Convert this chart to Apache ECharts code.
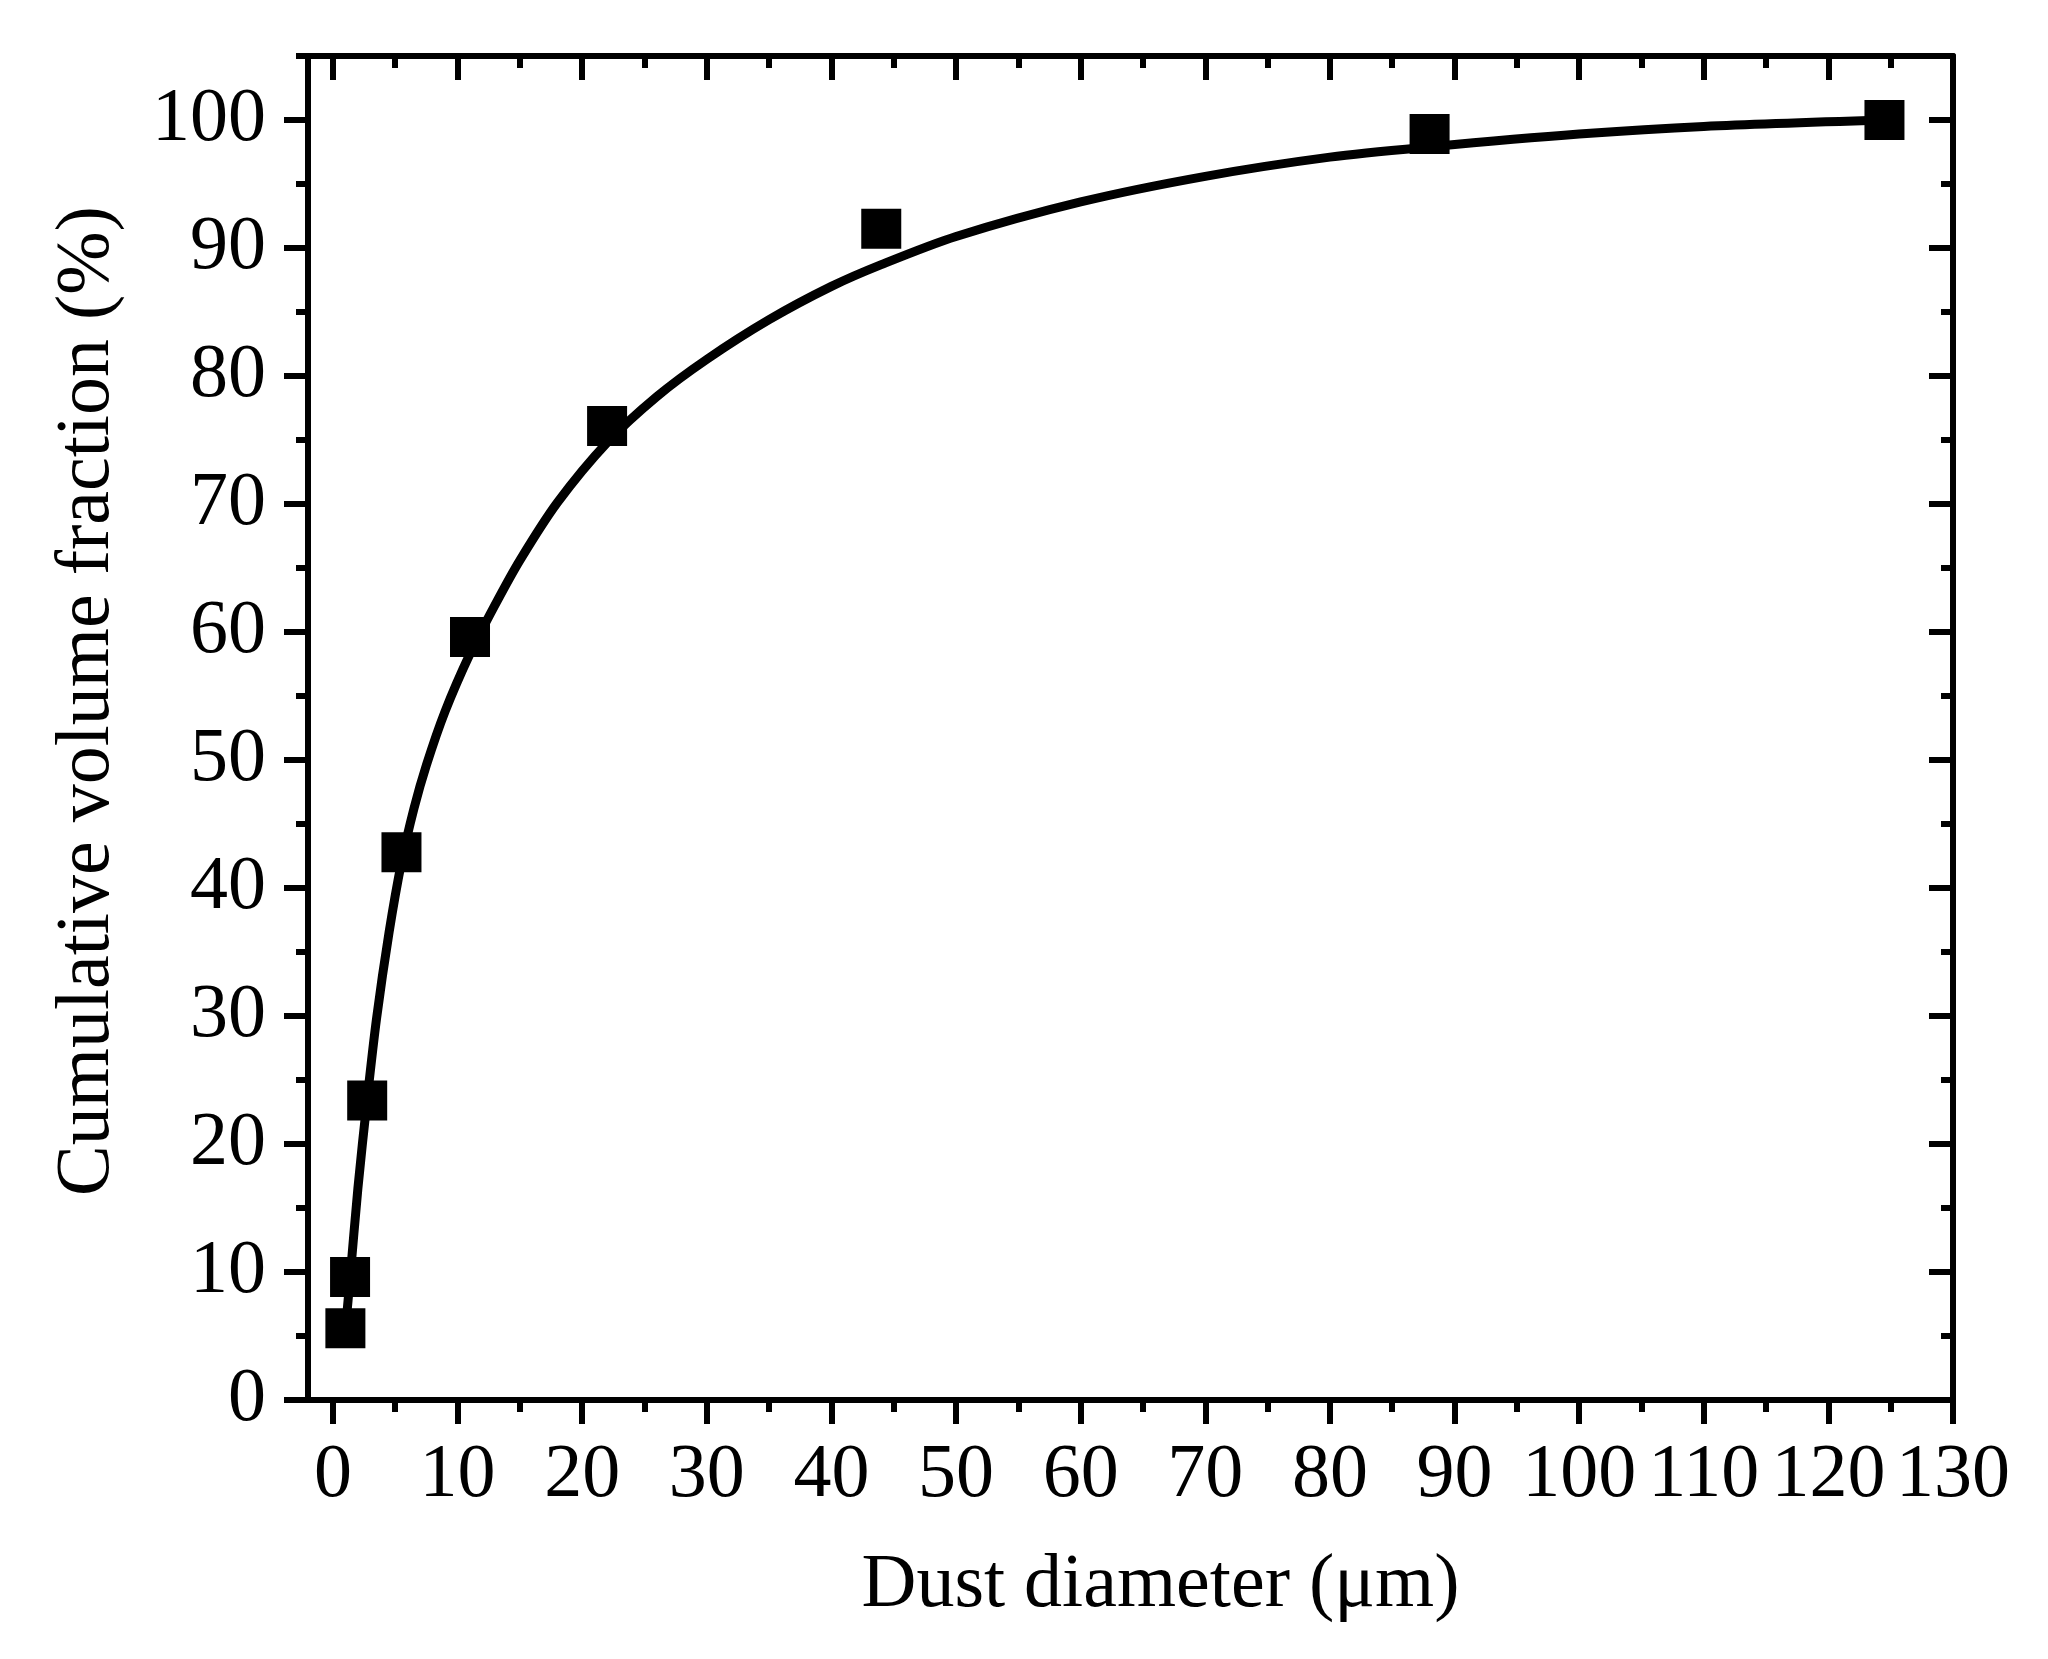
<!DOCTYPE html>
<html><head><meta charset="utf-8">
<script src="https://cdn.jsdelivr.net/npm/echarts@6/dist/echarts.min.js"></script>
<style>html,body{margin:0;padding:0;background:#fff}#c{width:2048px;height:1659px}</style>
</head><body><div id="c"></div>
<script>
// measured data points
const diameters  = [1, 1.375, 2.75, 5.5, 11, 22, 44, 88, 124.5];
const cumulative = [5.6, 9.6, 23.4, 42.8, 59.6, 76.1, 91.5, 98.9, 100.0];
// fitted curve
const fitX = [1, 1.375, 2, 2.75, 3.5, 4.5, 5.5, 6.5, 7.5, 9, 11, 13, 15, 18, 22, 26, 30, 35, 40, 44, 50, 60, 70, 80, 88, 100, 110, 124.5];
const fitY = [5.5, 9.5, 16.5, 23.5, 29.8, 36.5, 42.0, 46.2, 49.6, 53.8, 58.3, 62.1, 65.6, 70.1, 74.8, 78.4, 81.3, 84.4, 87.0, 88.7, 90.9, 93.6, 95.6, 97.1, 97.9, 98.9, 99.5, 100.0];
// ticks
const xMajorTicks = [0,10,20,30,40,50,60,70,80,90,100,110,120,130];
const xMinorTicks = [5,15,25,35,45,55,65,75,85,95,105,115,125];
const yMajorTicks = [0,10,20,30,40,50,60,70,80,90,100];
const yMinorTicks = [5,15,25,35,45,55,65,75,85,95,105];
const xTitle = 'Dust diameter (μm)';
const yTitle = 'Cumulative volume fraction (%)';

const FONT = 'Liberation Serif';
const FS = 76;
const X_MIN = -2, X_MAX = 130, Y_MIN = 0, Y_MAX = 105;

function mkAxis(dim, position, ticks, len, inside, showLine, label, name) {
  const a = {
    type: 'value', position: position,
    min: dim === 'x' ? X_MIN : Y_MIN,
    max: dim === 'x' ? X_MAX : Y_MAX,
    splitLine: {show: false},
    axisLine: {show: showLine, onZero: false, lineStyle: {color: '#000', width: 6}},
    axisTick: {show: true, inside: inside, length: len, customValues: ticks, lineStyle: {color: '#000', width: 6}},
    axisLabel: label ? {show: true, customValues: ticks, margin: dim === 'x' ? 38 : 42,
      fontFamily: FONT, fontSize: FS, color: '#000'} : {show: false},
    z: 3
  };
  if (name) Object.assign(a, name);
  return a;
}

const chart = echarts.init(document.getElementById('c'), null, {renderer: 'canvas'});
chart.setOption({
  backgroundColor: '#fff',
  animation: false,
  grid: {left: 308, right: 95, top: 56, bottom: 259, containLabel: false},
  xAxis: [
    mkAxis('x', 'bottom', xMajorTicks, 24, false, true, true, {
      name: xTitle, nameLocation: 'middle', nameGap: 148,
      nameTextStyle: {fontFamily: FONT, fontSize: FS, color: '#000', padding: [0, 0, 0, 60]}
    }),
    mkAxis('x', 'bottom', xMinorTicks, 12, false, false, false),
    mkAxis('x', 'top', xMajorTicks, 24, true, true, false),
    mkAxis('x', 'top', xMinorTicks, 12, true, false, false)
  ],
  yAxis: [
    mkAxis('y', 'left', yMajorTicks, 24, false, true, true, {
      name: yTitle, nameLocation: 'middle', nameGap: 182, nameRotate: 90,
      nameTextStyle: {fontFamily: FONT, fontSize: FS, color: '#000', padding: [0, 0, 0, 54]}
    }),
    mkAxis('y', 'left', yMinorTicks, 12, false, false, false),
    mkAxis('y', 'right', yMajorTicks, 24, true, true, false),
    mkAxis('y', 'right', yMinorTicks, 12, true, false, false)
  ],
  series: [
    {
      type: 'line', xAxisIndex: 0, yAxisIndex: 0,
      data: fitX.map((x, i) => [x, fitY[i]]),
      smooth: 0.3, showSymbol: false, symbol: 'none',
      lineStyle: {color: '#000', width: 9}, z: 4
    },
    {
      type: 'scatter', xAxisIndex: 0, yAxisIndex: 0,
      data: diameters.map((x, i) => [x, cumulative[i]]),
      symbol: 'rect', symbolSize: 40,
      itemStyle: {color: '#000', opacity: 1}, z: 5
    }
  ]
});
</script></body></html>
